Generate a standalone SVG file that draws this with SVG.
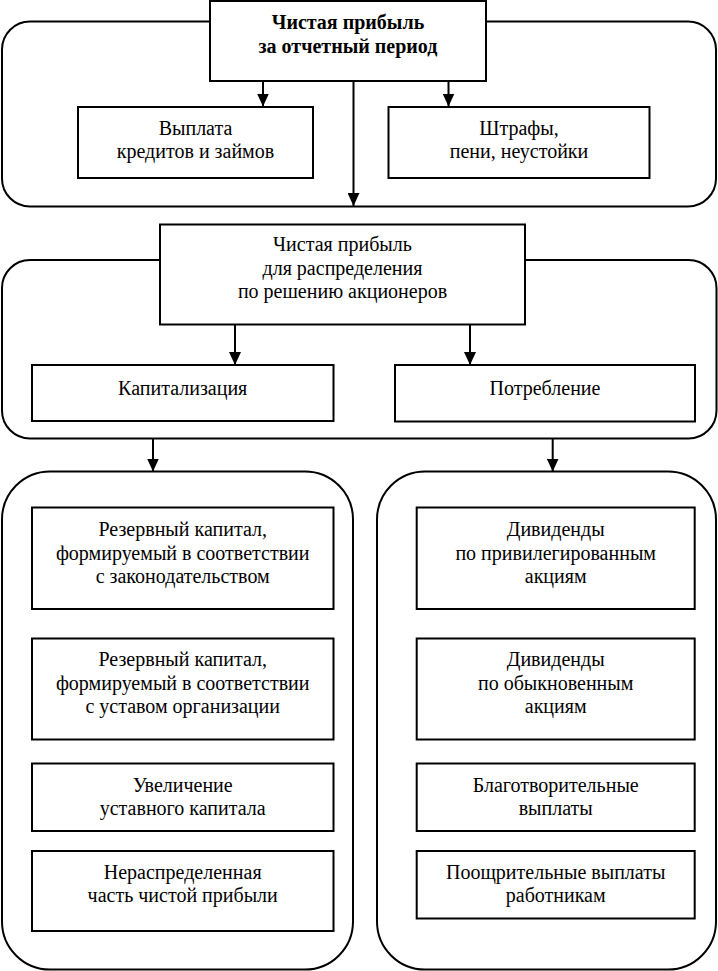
<svg xmlns="http://www.w3.org/2000/svg" width="718" height="971" viewBox="0 0 718 971">
<style>
.cont{fill:none;stroke:#000;stroke-width:2}
.box{fill:#fff;stroke:#000;stroke-width:2}
.t{font-family:"Liberation Serif","Times New Roman",serif;font-size:20px;fill:#000;text-anchor:middle}
.b{font-weight:bold}
.ln{stroke:#000;stroke-width:2;fill:none}
</style>
<defs>
<marker id="ah" viewBox="0 0 13 12" refX="13" refY="6" markerWidth="13" markerHeight="12" orient="auto" markerUnits="userSpaceOnUse">
<path d="M0,0 L13,6 L0,12 z" fill="#000"/>
</marker>
</defs>
<rect width="718" height="971" fill="#fff"/>

<g id="containers">
<rect class="cont" x="2" y="21.5" width="714" height="185" rx="28" ry="28"/>
<rect class="cont" x="2" y="260" width="714.5" height="178.5" rx="28" ry="28"/>
<rect class="cont" x="2" y="471.5" width="351" height="498" rx="48" ry="48"/>
<rect class="cont" x="377" y="471.5" width="339" height="498" rx="48" ry="48"/>
</g>

<g id="connectors">
<line class="ln" x1="263" y1="81" x2="263" y2="106.5" marker-end="url(#ah)"/>
<line class="ln" x1="448.5" y1="81" x2="448.5" y2="106.5" marker-end="url(#ah)"/>
<line class="ln" x1="353.5" y1="81" x2="353.5" y2="206" marker-end="url(#ah)"/>
<line class="ln" x1="235" y1="324.5" x2="235" y2="365" marker-end="url(#ah)"/>
<line class="ln" x1="470" y1="324.5" x2="470" y2="365" marker-end="url(#ah)"/>
<line class="ln" x1="153" y1="438.5" x2="153" y2="471.5" marker-end="url(#ah)"/>
<line class="ln" x1="552.7" y1="438.5" x2="552.7" y2="471.5" marker-end="url(#ah)"/>
</g>

<g id="net-profit">
<rect class="box" x="210" y="1" width="276" height="80"/>
<text class="t b" x="348" y="29">Чистая прибыль</text>
<text class="t b" x="348" y="53">за отчетный период</text>
</g>

<g id="loans">
<rect class="box" x="78" y="107" width="235" height="71"/>
<text class="t" x="195.5" y="135">Выплата</text>
<text class="t" x="195.5" y="158">кредитов и займов</text>
</g>

<g id="fines">
<rect class="box" x="388.5" y="107" width="261" height="71"/>
<text class="t" x="519" y="135">Штрафы,</text>
<text class="t" x="519" y="158">пени, неустойки</text>
</g>

<g id="distributable">
<rect class="box" x="160" y="224.5" width="365" height="100"/>
<text class="t" x="342.5" y="251">Чистая прибыль</text>
<text class="t" x="342.5" y="275">для распределения</text>
<text class="t" x="342.5" y="298">по решению акционеров</text>
</g>

<g id="capitalization">
<rect class="box" x="32" y="365" width="301.5" height="56"/>
<text class="t" x="182.7" y="395">Капитализация</text>
</g>

<g id="consumption">
<rect class="box" x="395" y="365" width="300" height="56.5"/>
<text class="t" x="545" y="395">Потребление</text>
</g>

<g id="reserve-law">
<rect class="box" x="32" y="507.5" width="301.5" height="101.5"/>
<text class="t" x="182.7" y="536">Резервный капитал,</text>
<text class="t" x="182.7" y="559.5">формируемый в соответствии</text>
<text class="t" x="182.7" y="582.5">с законодательством</text>
</g>

<g id="reserve-charter">
<rect class="box" x="32" y="638.5" width="301.5" height="101"/>
<text class="t" x="182.7" y="666">Резервный капитал,</text>
<text class="t" x="182.7" y="689.5">формируемый в соответствии</text>
<text class="t" x="182.7" y="712.5">с уставом организации</text>
</g>

<g id="charter-increase">
<rect class="box" x="32" y="763.5" width="301.5" height="67.5"/>
<text class="t" x="182.7" y="792">Увеличение</text>
<text class="t" x="182.7" y="815">уставного капитала</text>
</g>

<g id="retained">
<rect class="box" x="32" y="851" width="301.5" height="80"/>
<text class="t" x="182.7" y="878.5">Нераспределенная</text>
<text class="t" x="182.7" y="901.5">часть чистой прибыли</text>
</g>

<g id="div-pref">
<rect class="box" x="416.7" y="507.5" width="278" height="101.5"/>
<text class="t" x="555.7" y="536">Дивиденды</text>
<text class="t" x="555.7" y="559.5">по привилегированным</text>
<text class="t" x="555.7" y="582.5">акциям</text>
</g>

<g id="div-common">
<rect class="box" x="416.7" y="638.5" width="278" height="101"/>
<text class="t" x="555.7" y="666">Дивиденды</text>
<text class="t" x="555.7" y="689.5">по обыкновенным</text>
<text class="t" x="555.7" y="712.5">акциям</text>
</g>

<g id="charity">
<rect class="box" x="416.7" y="763.5" width="278" height="67.5"/>
<text class="t" x="555.7" y="792">Благотворительные</text>
<text class="t" x="555.7" y="815">выплаты</text>
</g>

<g id="bonuses">
<rect class="box" x="416.7" y="851" width="278" height="67.5"/>
<text class="t" x="555.7" y="878.5">Поощрительные выплаты</text>
<text class="t" x="555.7" y="901.5">работникам</text>
</g>
</svg>
